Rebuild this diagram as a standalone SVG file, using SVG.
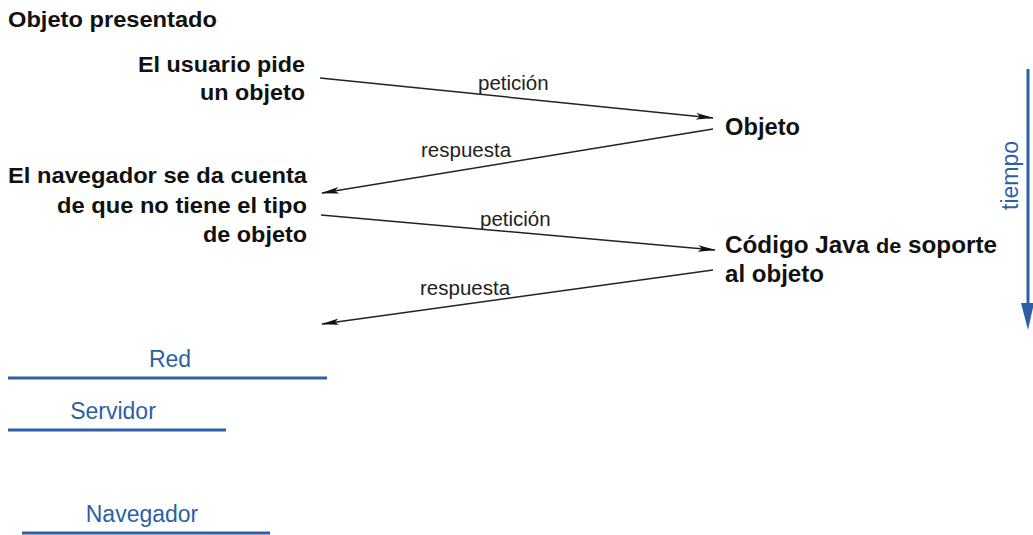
<svg xmlns="http://www.w3.org/2000/svg" width="1033" height="535" viewBox="0 0 1033 535">
<style>
.b{font-family:"Liberation Sans",Arial,sans-serif;font-weight:bold;fill:#111;font-size:22px}
.r{font-size:23.5px}
.lbl{font-family:"Liberation Sans",Arial,sans-serif;font-size:20.5px;fill:#222}
.blue{font-family:"Liberation Sans",Arial,sans-serif;font-size:23px;fill:#2d5fa6}
.c{stroke:#222;stroke-width:1.5;fill:none;marker-end:url(#ah)}
.bl{stroke:#2d5fa6;stroke-width:3;fill:none}
</style>
<defs>
<marker id="ah" markerWidth="18" markerHeight="8" refX="17" refY="4" orient="auto" markerUnits="userSpaceOnUse">
<path d="M0,0.8 L18,4 L0,7.2 L4,4 Z" fill="#111"/>
</marker>
</defs>
<rect width="1033" height="535" fill="#fff"/>
<g id="title"><text class="b" x="8" y="27" font-size="20" textLength="209" lengthAdjust="spacingAndGlyphs">Objeto presentado</text></g>
<g id="n-usuario"><text class="b" x="138" y="72" textLength="167" lengthAdjust="spacingAndGlyphs">El usuario pide</text><text class="b" x="200" y="100" textLength="105" lengthAdjust="spacingAndGlyphs">un objeto</text></g>
<g id="n-objeto"><text class="b r" x="725" y="135" textLength="75" lengthAdjust="spacingAndGlyphs">Objeto</text></g>
<g id="n-navegador"><text class="b" x="8" y="183" textLength="299" lengthAdjust="spacingAndGlyphs">El navegador se da cuenta</text><text class="b" x="57" y="213" textLength="250" lengthAdjust="spacingAndGlyphs">de que no tiene el tipo</text><text class="b" x="203" y="242" textLength="104" lengthAdjust="spacingAndGlyphs">de objeto</text></g>
<g id="n-codigo"><text class="b r" x="725" y="253" textLength="272" lengthAdjust="spacingAndGlyphs">Código Java <tspan font-size="21">de</tspan> soporte</text><text class="b r" x="725" y="282" textLength="99" lengthAdjust="spacingAndGlyphs">al objeto</text></g>
<g id="connectors">
<line class="c" x1="320" y1="78" x2="713" y2="118"/>
<line class="c" x1="713" y1="129" x2="322" y2="193"/>
<line class="c" x1="321" y1="215" x2="715" y2="250"/>
<line class="c" x1="713" y1="270" x2="322" y2="324"/>
<text class="lbl" x="478" y="90">petición</text>
<text class="lbl" x="421" y="157">respuesta</text>
<text class="lbl" x="480" y="226">petición</text>
<text class="lbl" x="420" y="295">respuesta</text>
</g>
<g id="tiempo">
<line class="bl" x1="1028" y1="69" x2="1028" y2="310"/>
<path d="M1021,303 L1034,303 L1028,330 Z" fill="#2d5fa6"/>
<text class="blue" transform="translate(1018,210) rotate(-90)">tiempo</text>
</g>
<g id="red"><text class="blue" x="170" y="367" text-anchor="middle">Red</text><line class="bl" x1="8" y1="378" x2="327" y2="378"/></g>
<g id="servidor"><text class="blue" x="113" y="419" text-anchor="middle">Servidor</text><line class="bl" x1="8" y1="430" x2="226" y2="430"/></g>
<g id="navegador"><text class="blue" x="142" y="522" text-anchor="middle">Navegador</text><line class="bl" x1="22" y1="533" x2="270" y2="533"/></g>
</svg>
